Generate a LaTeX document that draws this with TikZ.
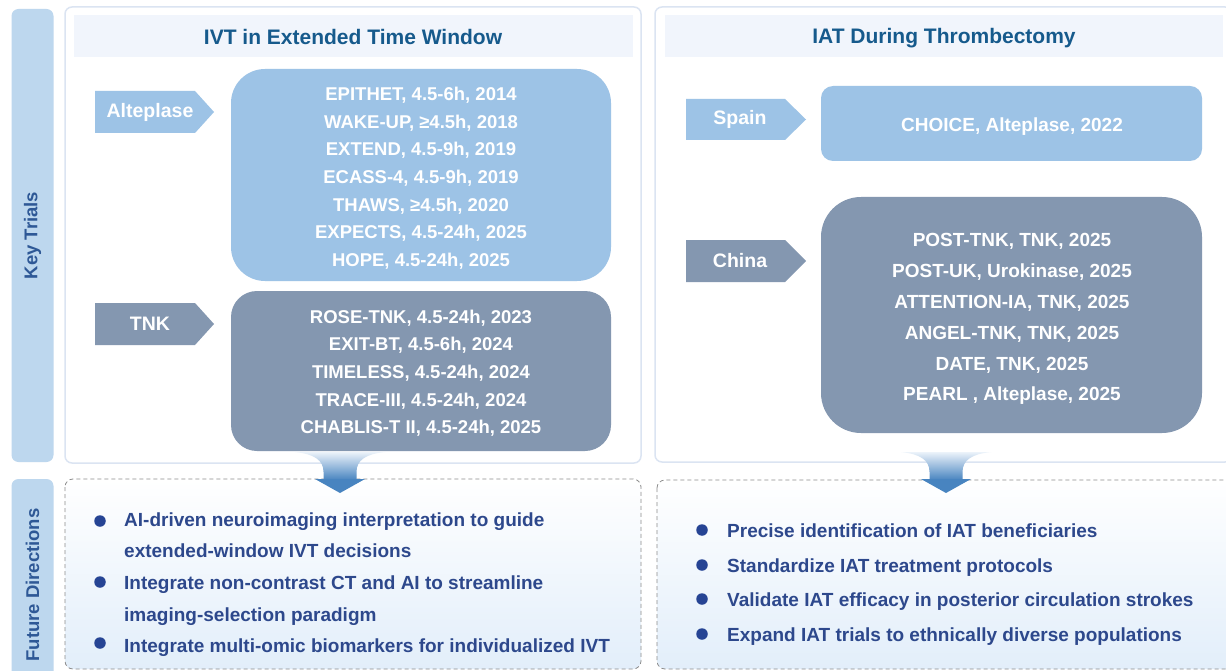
\documentclass[tikz,border=0pt]{standalone}
\usepackage{fontspec}
\setmainfont{Liberation Sans}
\definecolor{lb}{RGB}{157,195,230}
\definecolor{sl}{RGB}{132,151,176}
\definecolor{barc}{RGB}{189,215,238}
\definecolor{bartxt}{RGB}{46,88,150}
\definecolor{ttl}{RGB}{22,90,140}
\definecolor{band}{RGB}{241,245,252}
\definecolor{pbord}{RGB}{219,228,242}
\definecolor{btxt}{RGB}{45,72,140}
\definecolor{dotc}{RGB}{38,68,148}
\definecolor{arr}{RGB}{72,132,192}
\definecolor{arrtop}{RGB}{236,243,250}
\definecolor{fdbot}{RGB}{226,238,250}
\begin{document}
\begin{tikzpicture}[x=1pt,y=-1pt,
  trial/.style={text=white, font=\bfseries\fontsize{18.5}{27.6}\selectfont, align=center, inner sep=0},
  trialc/.style={text=white, font=\bfseries\fontsize{19}{30.8}\selectfont, align=center, inner sep=0},
  lab/.style={text=white, font=\bfseries\fontsize{19.5}{22}\selectfont, inner sep=0},
  ttlst/.style={text=ttl, font=\bfseries\fontsize{21}{24}\selectfont, inner sep=0},
  bul/.style={text=btxt, font=\bfseries\fontsize{19}{22}\selectfont, anchor=base west, inner sep=0},
  dotst/.style={circle, fill=dotc, minimum size=11.5, inner sep=0},
  side/.style={text=bartxt, font=\bfseries\fontsize{18.5}{22}\selectfont, rotate=90, inner sep=0},
  panel/.style={draw=pbord, line width=1.5pt, fill=white, rounded corners=7},
  fdbox/.style={draw=black!45, dash pattern=on 4pt off 3pt, line width=0.8pt, top color=white, bottom color=fdbot, rounded corners=8},
  boxlb/.style={fill=lb, inner sep=0},
  boxsl/.style={fill=sl, inner sep=0}
]
\useasboundingbox (0,0) rectangle (1226,671);
\clip (0,0) rectangle (1226,671);
\fill[white] (0,0) rectangle (1226,671);

% side bars
\node[fill=barc, rounded corners=7, minimum width=42, minimum height=453, inner sep=0] (ktbar) at (32.5,235.5) {};
\node[side] (kt) at (ktbar.center) {Key Trials};
\node[fill=barc, rounded corners=7, minimum width=42, minimum height=212, inner sep=0] (fdbar) at (32.5,585) {};
\node[side] (fd) at (32.5,585) {Future Directions};

% panels
\draw[panel] (65,7) rectangle (641,463);
\fill[band] (74,15) rectangle (633,57);
\node[ttlst] (t1) at (353,37) {IVT in Extended Time Window};

\draw[panel] (655,7) rectangle (1232,462);
\fill[band] (665,15) rectangle (1223,57);
\node[ttlst] (t2) at (944,38.5) {IAT During Thrombectomy};

% left: Alteplase
\fill[lb] (95,91) -- (195,91) -- (214,112) -- (195,133) -- (95,133) -- cycle;
\node[lab] (alt) at (150,112) {Alteplase};
\node[boxlb, rounded corners=34, minimum width=380, minimum height=212] (altbox) at (421,175) {};
\node[trial] (alttxt) at (421,178.3) {EPITHET, 4.5-6h, 2014\\WAKE-UP, ≥4.5h, 2018\\EXTEND, 4.5-9h, 2019\\ECASS-4, 4.5-9h, 2019\\THAWS, ≥4.5h, 2020\\EXPECTS, 4.5-24h, 2025\\HOPE, 4.5-24h, 2025};

% left: TNK
\fill[sl] (95,303) -- (195,303) -- (214,324) -- (195,345) -- (95,345) -- cycle;
\node[lab] (tnk) at (150,324) {TNK};
\node[boxsl, rounded corners=26, minimum width=380, minimum height=160] (tnkbox) at (421,371) {};
\node[trial] (tnktxt) at (421,373.3) {ROSE-TNK, 4.5-24h, 2023\\EXIT-BT, 4.5-6h, 2024\\TIMELESS, 4.5-24h, 2024\\TRACE-III, 4.5-24h, 2024\\CHABLIS-T II, 4.5-24h, 2025};

% right: Spain
\fill[lb] (686,99) -- (785,99) -- (806,119.5) -- (785,140) -- (686,140) -- cycle;
\node[lab] (spain) at (740,119.5) {Spain};
\node[boxlb, rounded corners=12, minimum width=381, minimum height=75] (spbox) at (1011.5,123.5) {};
\node[trialc] (sptxt) at (1012,126.3) {CHOICE, Alteplase, 2022};

% right: China
\fill[sl] (686,240) -- (785,240) -- (806,261) -- (785,282) -- (686,282) -- cycle;
\node[lab] (china) at (740,261) {China};
\node[boxsl, rounded corners=40, minimum width=381, minimum height=236] (chbox) at (1011.5,315) {};
\node[trialc] (chtxt) at (1012,319.3) {POST-TNK, TNK, 2025\\POST-UK, Urokinase, 2025\\ATTENTION-IA, TNK, 2025\\ANGEL-TNK, TNK, 2025\\DATE, TNK, 2025\\PEARL , Alteplase, 2025};

% future direction boxes
\shadedraw[fdbox] (65,479) rectangle (641,669);
\shadedraw[fdbox] (657,480) rectangle (1240,669);

% funnel arrows
\shade[top color=arrtop, bottom color=arr] (295,452) .. controls (314,454) and (323.5,460) .. (323.5,472) -- (323.5,480) -- (356.5,480) -- (356.5,472) .. controls (356.5,460) and (366,454) .. (385,452) -- cycle;
\fill[arr] (315,479) -- (365,479) -- (340,493) -- cycle;
\shade[top color=arrtop, bottom color=arr] (901,452) .. controls (920,454) and (929.5,460) .. (929.5,472) -- (929.5,480) -- (962.5,480) -- (962.5,472) .. controls (962.5,460) and (972,454) .. (991,452) -- cycle;
\fill[arr] (921,479) -- (971,479) -- (946,493) -- cycle;

% left bullets
\node[dotst] (d1) at (100,521) {};
\node[bul] (l1a) at (124,526) {AI-driven neuroimaging interpretation to guide};
\node[bul] (l1b) at (124,557) {extended-window IVT decisions};
\node[dotst] (d2) at (100,582) {};
\node[bul] (l2a) at (124,589) {Integrate non-contrast CT and AI to streamline};
\node[bul] (l2b) at (124,621) {imaging-selection paradigm};
\node[dotst] (d3) at (100,643) {};
\node[bul] (l3a) at (124,652) {Integrate multi-omic biomarkers for individualized IVT};

% right bullets
\node[dotst] (r1) at (702,530) {};
\node[bul] (rt1) at (727,537) {Precise identification of IAT beneficiaries};
\node[dotst] (r2) at (702,565) {};
\node[bul] (rt2) at (727,572) {Standardize IAT treatment protocols};
\node[dotst] (r3) at (702,599) {};
\node[bul] (rt3) at (727,606) {Validate IAT efficacy in posterior circulation strokes};
\node[dotst] (r4) at (702,634) {};
\node[bul] (rt4) at (727,641) {Expand IAT trials to ethnically diverse populations};
\end{tikzpicture}
\end{document}
